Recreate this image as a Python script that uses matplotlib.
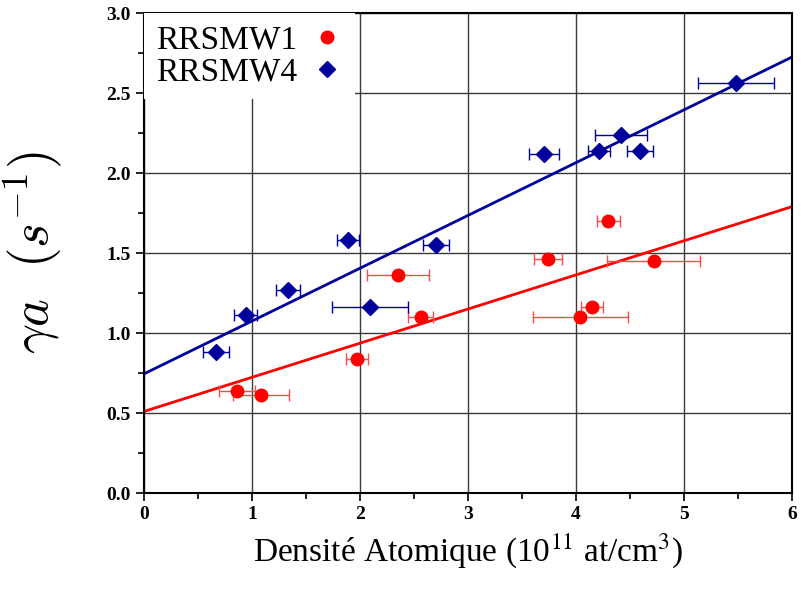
import matplotlib.pyplot as plt
from matplotlib.ticker import MultipleLocator
from matplotlib.lines import Line2D

plt.rcParams['font.family'] = ['Liberation Serif', 'DejaVu Serif']
plt.rcParams['mathtext.fontset'] = 'cm'

# RRSMW1 (red circles)
x1 = [0.86, 1.08, 1.97, 2.35, 2.56, 3.74, 4.04, 4.15, 4.30, 4.72]
y1 = [0.64, 0.61, 0.84, 1.36, 1.10, 1.46, 1.10, 1.16, 1.70, 1.45]
xerr1 = [0.17, 0.26, 0.10, 0.29, 0.12, 0.13, 0.44, 0.10, 0.11, 0.43]

# RRSMW4 (blue diamonds)
x4 = [0.67, 0.94, 1.33, 1.89, 2.09, 2.70, 3.70, 4.21, 4.42, 4.59, 5.48]
y4 = [0.88, 1.11, 1.27, 1.58, 1.16, 1.55, 2.12, 2.14, 2.24, 2.14, 2.56]
xerr4 = [0.12, 0.11, 0.11, 0.10, 0.35, 0.12, 0.14, 0.10, 0.24, 0.12, 0.35]

# linear fits
fit_x = [0, 6]
fit1 = [0.51, 1.79]
fit4 = [0.745, 2.725]

red = '#ff0000'
blue = '#00009c'

fig = plt.figure(figsize=(8.01, 5.92), dpi=100)
ax = fig.add_axes([0.1798, 0.1672, 0.8090, 0.8108])

ax.plot(fit_x, fit1, color=red, lw=2, zorder=2)
ax.plot(fit_x, fit4, color=blue, lw=2, zorder=2)

ax.errorbar(x1, y1, xerr=xerr1, fmt='o', color=red, ecolor='#ff4a4a', ms=9,
            elinewidth=1, capsize=4, capthick=1, zorder=3)
ax.errorbar(x4, y4, xerr=xerr4, fmt='D', color=blue, ecolor=blue, ms=8.5,
            elinewidth=1, capsize=4, capthick=1, zorder=3)

ax.set_xlim(0, 6)
ax.set_ylim(0, 3.0)
ax.xaxis.set_major_locator(MultipleLocator(1))
ax.xaxis.set_minor_locator(MultipleLocator(0.5))
ax.yaxis.set_minor_locator(MultipleLocator(0.25))
ax.set_yticks([0, 0.5, 1.0, 1.5, 2.0, 2.5, 3.0])
ax.set_yticklabels(['0.0', '0.5', '1.0', '1.5', '2.0', '2.5', '3.0'])
ax.tick_params(which='major', direction='out', length=6, width=1.2,
               labelsize=14, top=False, right=False)
ax.tick_params(which='minor', direction='out', length=4, width=1.2,
               top=False, right=False)
for lab in ax.get_xticklabels() + ax.get_yticklabels():
    lab.set_fontweight('bold')
for s in ax.spines.values():
    s.set_linewidth(1.5)
ax.grid(True, which='major', color='#3a3a3a', lw=1)
ax.set_axisbelow(True)

ax.set_xlabel(r'Densité Atomique (10$^{\rm 11}$ at/cm$^{\rm 3}$)', fontsize=24,
              labelpad=6, math_fontfamily='stix')
ax.set_ylabel(r'$\gamma a\ \ (s^{-1})$', fontsize=38, labelpad=30)

handles = [Line2D([], [], ls='none', marker='o', color=red, ms=9),
           Line2D([], [], ls='none', marker='D', color=blue, ms=8.5)]
leg = ax.legend(handles, ['RRSMW1', 'RRSMW4'], loc='upper left', fontsize=24,
                markerfirst=False, frameon=True, borderaxespad=0.0,
                handletextpad=0.4, labelspacing=0.05, borderpad=0.35,
                handlelength=1.0)
leg.get_frame().set_edgecolor('none')
leg.get_frame().set_facecolor('white')
leg.get_frame().set_alpha(1)
leg.get_frame().set_boxstyle('square', pad=0)

fig.savefig('out.png', dpi=100)
